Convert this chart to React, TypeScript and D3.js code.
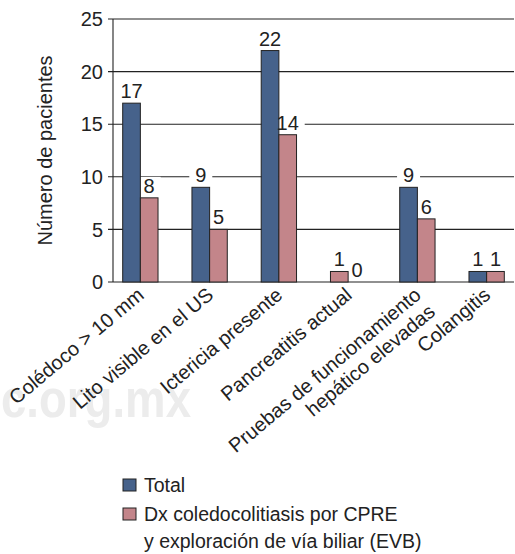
import React from "react";
import * as d3 from "d3";

// --- data ---
const categories: string[] = [
    "Colédoco > 10 mm",
    "Lito visible en el US",
    "Ictericia presente",
    "Pancreatitis actual",
    "Pruebas de funcionamiento\nhepático elevadas",
    "Colangitis",
];
const totalValues: number[] = [17, 9, 22, 1, 9, 1];
const evbValues:   number[] = [8, 5, 14, 0, 6, 1];
const yTicks:      number[] = [0, 5, 10, 15, 20, 25];
const seriesKeys:  string[] = ["total", "evb"];
const legendLabels: string[][] = [
    ["Total"],
    ["Dx coledocolitiasis por CPRE", "y exploración de vía biliar (EVB)"],
];

const WIDTH  = 515;
const HEIGHT = 554;
const margin = { top: 19, right: 1, bottom: 272, left: 113 };

const BLUE  = "#46628b";
const PINK  = "#c3858a";
const INK   = "#222";
const FONT  = "'Liberation Sans', Arial, Helvetica, sans-serif";

type Bar = { cat: string, key: string, value: number };

export default function App() {
    const x0 = d3.scaleBand<string>()
        .domain(categories)
        .range([margin.left, WIDTH - margin.right])
        .paddingInner(0.49)
        .paddingOuter(0.14);
    const x1 = d3.scaleBand<string>()
        .domain(seriesKeys)
        .range([0, x0.bandwidth()]);
    const y = d3.scaleLinear()
        .domain([0, 25])
        .range([HEIGHT - margin.bottom, margin.top]);

    const bars: Bar[] = categories.flatMap((cat, i) => [
        { cat, key: "total", value: totalValues[i]! },
        { cat, key: "evb",   value: evbValues[i]! },
    ]);

    const barX = (b: Bar) => x0(b.cat)! + x1(b.key)!;
    // the original figure paints the single "Pancreatitis actual" total bar in pink
    const barFill = (b: Bar) =>
        b.key === "evb" || b.cat === "Pancreatitis actual" ? PINK : BLUE;

    const labelY = (b: Bar) => y(b.value) - 5;
    const labelW = (b: Bar) => String(b.value).length * 11 + 12;

    return (
        <svg
            width={WIDTH}
            height={HEIGHT}
            style={{ position: "absolute", left: 0, top: 0, background: "#fff" }}
            fontFamily={FONT}
        >
            {/* faint watermark, cut at the left edge in the source */}
            <text x={1} y={417} fontSize={54} fontWeight="bold" fill="#ececec"
                textLength={190} lengthAdjust="spacingAndGlyphs">
                c.org.mx
            </text>

            {/* grid lines */}
            {yTicks.map(t => (
                <line key={t} x1={margin.left - 5} x2={WIDTH - margin.right}
                    y1={y(t)} y2={y(t)} stroke={INK} strokeWidth={1.1} />
            ))}
            <line x1={margin.left} x2={margin.left} y1={y(25)} y2={y(0)} stroke={INK} strokeWidth={1.1} />

            {/* tick labels */}
            {yTicks.map(t => (
                <text key={t} x={103} y={y(t)} dy="0.36em" textAnchor="end" fontSize={20} fill={INK}>
                    {t}
                </text>
            ))}

            <text transform={`translate(52,${(y(0) + y(25)) / 2 + 0}) rotate(-90)`}
                textAnchor="middle" fontSize={20} fill={INK}>
                Número de pacientes
            </text>

            {/* white boxes behind value labels, cut the grid lines */}
            {bars.map((b, i) => (
                <rect key={i} x={barX(b) + x1.bandwidth() / 2 - labelW(b) / 2}
                    y={labelY(b) - 16} width={labelW(b)} height={19} fill="#fff" />
            ))}

            {/* bars */}
            {bars.filter(b => b.value > 0).map((b, i) => (
                <rect key={i} x={barX(b)} y={y(b.value)} width={x1.bandwidth()}
                    height={y(0) - y(b.value)} fill={barFill(b)} stroke={INK} strokeWidth={1} />
            ))}

            {/* value labels */}
            {bars.map((b, i) => (
                <text key={i} x={barX(b) + x1.bandwidth() / 2} y={labelY(b)}
                    textAnchor="middle" fontSize={20} fill={INK}>
                    {b.value}
                </text>
            ))}

            {/* category labels */}
            {categories.map(cat => (
                <text key={cat}
                    transform={`translate(${x0(cat)! + x0.bandwidth() / 2 + 5},${y(0) + 15}) rotate(-40)`}
                    textAnchor="end" fontSize={20} fill={INK}>
                    {cat.split("\n").map((line, j) => (
                        <tspan key={j} x={0} dy={j === 0 ? 0 : "1.1em"}>{line}</tspan>
                    ))}
                </text>
            ))}

            {/* legend */}
            {legendLabels.map((lines, i) => (
                <g key={i} transform={`translate(123,${479 + i * 29})`}>
                    <rect width={13} height={12} fill={i === 0 ? BLUE : PINK} stroke={INK} strokeWidth={1} />
                    {lines.map((line, j) => (
                        <text key={j} x={21} y={13 + j * 27} fontSize={19.5} fill={INK}>{line}</text>
                    ))}
                </g>
            ))}
        </svg>
    );
}
